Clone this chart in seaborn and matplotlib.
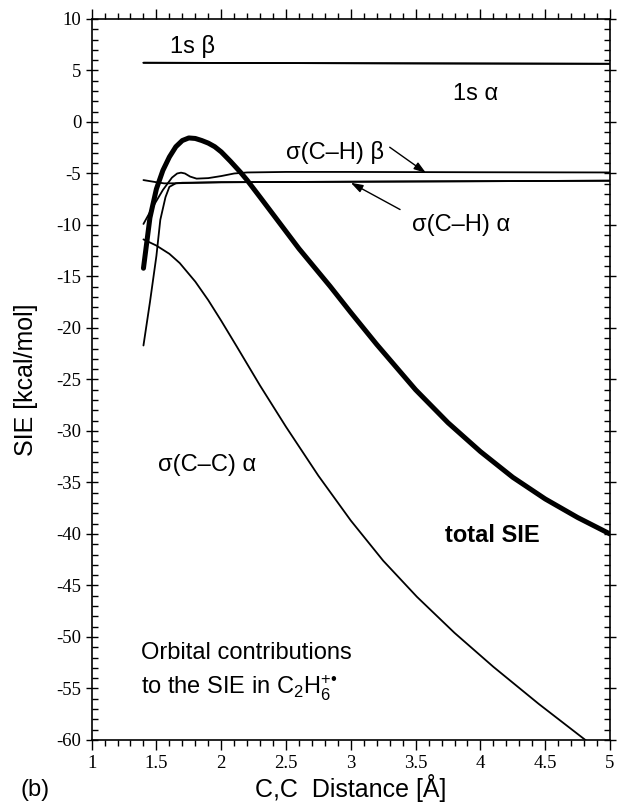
import matplotlib
matplotlib.use("Agg")
import matplotlib.pyplot as plt
import seaborn as sns
import pandas as pd
from matplotlib.ticker import MultipleLocator

# ---------------- data ----------------
x_1s = [1.40, 2.5, 3.5, 5.0]
y_1s_beta = [5.75, 5.72, 5.69, 5.65]
y_1s_alpha = [5.75, 5.72, 5.69, 5.65]

x_ch_beta = [1.40, 1.47, 1.55, 1.62, 1.66, 1.69, 1.72, 1.76, 1.81, 1.90, 2.00, 2.10, 2.20, 2.50, 3.00, 4.00, 5.00]
y_ch_beta = [-9.9, -8.3, -6.6, -5.4, -5.0, -4.92, -5.0, -5.3, -5.5, -5.45, -5.25, -5.0, -4.9, -4.85, -4.85, -4.88, -4.9]

x_ch_alpha = [1.40, 1.45, 1.50, 1.53, 1.57, 1.60, 1.65, 1.70, 2.00, 3.00, 5.00]
y_ch_alpha = [-21.7, -17.5, -13.0, -9.5, -7.3, -6.3, -5.95, -5.9, -5.85, -5.8, -5.7]

x_flat = [1.40, 1.50, 1.56, 1.65, 2.00, 3.00, 5.00]
y_flat = [-5.64, -5.85, -5.96, -5.95, -5.85, -5.8, -5.7]

x_cc_alpha = [1.40, 1.50, 1.60, 1.68, 1.80, 1.90, 2.00, 2.12, 2.30, 2.50, 2.75, 3.00, 3.25, 3.51, 3.80, 4.10, 4.45, 4.82, 5.00]
y_cc_alpha = [-11.4, -12.0, -12.8, -13.7, -15.5, -17.3, -19.3, -21.8, -25.6, -29.6, -34.35, -38.7, -42.6, -46.1, -49.6, -52.9, -56.5, -60.1, -61.8]

x_total = [1.40, 1.45, 1.50, 1.55, 1.60, 1.65, 1.70, 1.75, 1.80, 1.85, 1.90, 1.95, 2.00, 2.07, 2.15, 2.20, 2.30,
           2.45, 2.60, 2.84, 3.00, 3.20, 3.50, 3.75, 4.00, 4.25, 4.50, 4.75, 5.00]
y_total = [-14.2, -9.3, -6.5, -4.7, -3.4, -2.4, -1.8, -1.55, -1.6, -1.8, -2.05, -2.4, -2.9, -3.8, -4.9, -5.65, -7.3,
           -9.8, -12.3, -15.95, -18.5, -21.6, -26.0, -29.2, -32.0, -34.5, -36.6, -38.4, -40.0]

x_ticks = [1, 1.5, 2, 2.5, 3, 3.5, 4, 4.5, 5]
x_ticklabels = ["1", "1.5", "2", "2.5", "3", "3.5", "4", "4.5", "5"]
y_ticks = [10, 5, 0, -5, -10, -15, -20, -25, -30, -35, -40, -45, -50, -55, -60]
y_ticklabels = [str(v) for v in y_ticks]

# ---------------- style ----------------
sns.set_theme(style="ticks")
plt.rcParams["font.family"] = ["Liberation Sans", "DejaVu Sans"]
plt.rcParams["axes.unicode_minus"] = False
plt.rcParams["text.color"] = "black"
plt.rcParams["axes.labelcolor"] = "black"
plt.rcParams["xtick.color"] = "black"
plt.rcParams["ytick.color"] = "black"
plt.rcParams["mathtext.fontset"] = "custom"
plt.rcParams["mathtext.rm"] = "Liberation Sans"
plt.rcParams["mathtext.it"] = "Liberation Sans:italic"
plt.rcParams["mathtext.bf"] = "Liberation Sans:bold"

fig = plt.figure(figsize=(6.19, 8.08), dpi=100)
ax = fig.add_axes([0.148, 0.0842, 0.8375, 0.8923])

thin = 1.3
series = [
    (x_1s, y_1s_beta, thin),
    (x_1s, y_1s_alpha, thin),
    (x_ch_beta, y_ch_beta, thin),
    (x_ch_alpha, y_ch_alpha, thin),
    (x_flat, y_flat, thin),
    (x_cc_alpha, y_cc_alpha, thin),
    (x_total, y_total, 3.6),
]
for xs, ys, lw in series:
    df = pd.DataFrame({"x": xs, "y": ys})
    sns.lineplot(data=df, x="x", y="y", ax=ax, color="black", lw=lw, sort=False)

ax.set_xlim(1, 5)
ax.set_ylim(-60, 10)
ax.set_xticks(x_ticks)
ax.set_xticklabels(x_ticklabels)
ax.set_yticks(y_ticks)
ax.set_yticklabels(y_ticklabels)
ax.xaxis.set_minor_locator(MultipleLocator(0.1))
ax.yaxis.set_minor_locator(MultipleLocator(1))

for side in ["left", "right", "top", "bottom"]:
    ax.spines[side].set_visible(True)
    ax.spines[side].set_linewidth(1.2)
    ax.spines[side].set_color("black")

ax.tick_params(axis="x", which="both", direction="out", top=True, bottom=True, color="black", width=1.0)
ax.tick_params(axis="x", which="major", length=7)
ax.tick_params(axis="x", which="minor", length=4)
ax.tick_params(axis="y", which="both", left=True, right=True, color="black", width=1.0)
ax.tick_params(axis="y", which="major", direction="inout", length=9)
ax.tick_params(axis="y", which="minor", direction="in", length=4)

for lab in ax.get_xticklabels() + ax.get_yticklabels():
    lab.set_fontfamily("Liberation Serif")
    lab.set_fontsize(13.5)
    lab.set_color("black")
ax.tick_params(axis="x", pad=4)
ax.tick_params(axis="y", pad=3)

ax.set_xlabel("C,C  Distance [Å]", fontsize=18, color="black", labelpad=1)
ax.set_ylabel("SIE [kcal/mol]", fontsize=18, color="black", labelpad=13)

fs = 17
ax.text(1.78, 7.35, "1s β", fontsize=fs, ha="center", va="center")
ax.text(3.96, 2.74, "1s α", fontsize=fs, ha="center", va="center")
ax.text(2.88, -2.95, "σ(C–H) β", fontsize=fs, ha="center", va="center")
ax.text(3.85, -10.0, "σ(C–H) α", fontsize=fs, ha="center", va="center")
ax.text(1.89, -33.3, "σ(C–C) α", fontsize=fs, ha="center", va="center")
ax.text(4.09, -40.1, "total SIE", fontsize=fs, ha="center", va="center", fontweight="bold")
ax.text(1.38, -51.6, "Orbital contributions", fontsize=fs, ha="left", va="center")
ax.text(1.38, -55.0, "to the SIE in $\\mathregular{C_2H_6^{+•}}$", fontsize=fs, ha="left", va="center")

arrow = dict(arrowstyle="-|>,head_length=0.6,head_width=0.2", color="black", lw=1.0, shrinkA=0, shrinkB=0)
ax.annotate("", xy=(3.58, -4.95), xytext=(3.30, -2.45), arrowprops=arrow)
ax.annotate("", xy=(3.0, -5.9), xytext=(3.38, -8.5), arrowprops=arrow)

fig.text(35 / 619, 1 - 790 / 808, "(b)", fontsize=17, ha="center", va="center")

fig.savefig("out.png", dpi=100)
